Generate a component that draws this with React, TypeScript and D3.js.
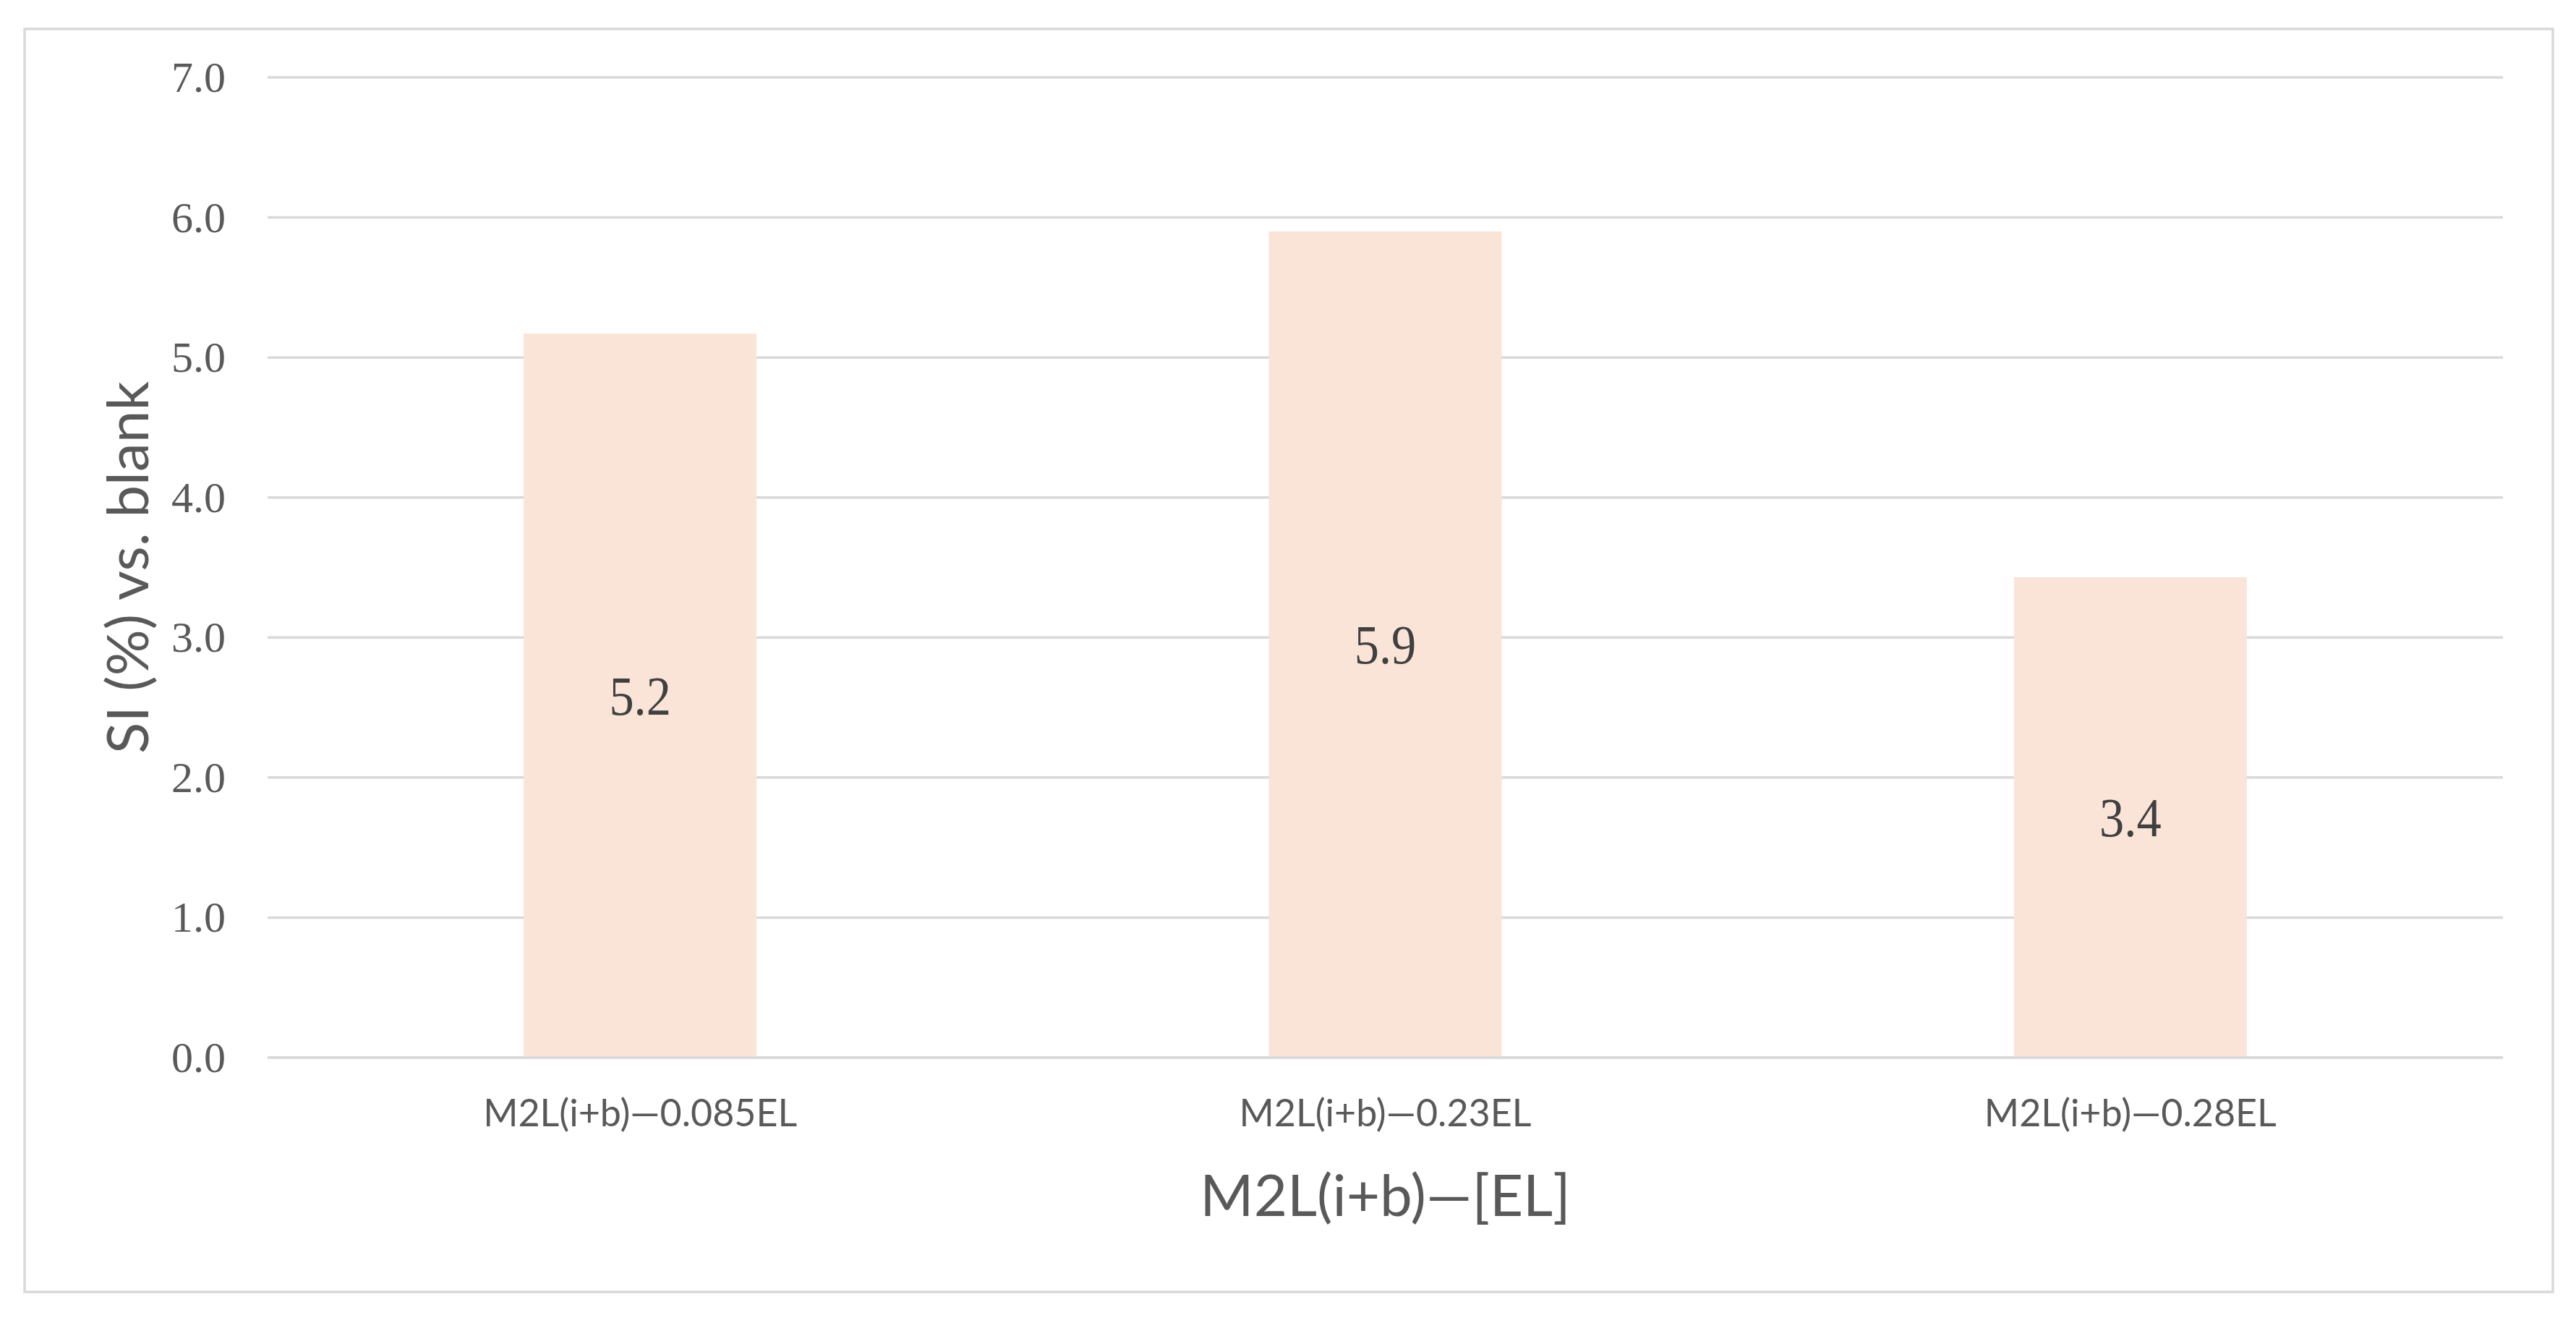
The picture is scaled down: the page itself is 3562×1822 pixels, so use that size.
import React from "react";
import * as d3 from "d3";

const categories = ["M2L(i+b)—0.085EL", "M2L(i+b)—0.23EL", "M2L(i+b)—0.28EL"];
const values = [5.17, 5.9, 3.43];
const valueLabels = ["5.2", "5.9", "3.4"];
const yTicks = [0, 1, 2, 3, 4, 5, 6, 7];
const xTitle = "M2L(i+b)—[EL]";
const yTitle = "SI (%) vs. blank";

const W = 3562;
const H = 1822;
const M = { left: 370, right: 3461, top: 107, bottom: 1462 };

export default function App() {
  const x = d3
    .scaleBand<string>()
    .domain(categories)
    .range([M.left, M.right])
    .paddingInner(0.6875)
    .paddingOuter(0.6875 / 2);
  const y = d3.scaleLinear().domain([0, 7]).range([M.bottom, M.top]);
  const sans = "Lato, 'Open Sans', sans-serif";
  const serif = "'Liberation Serif', 'Times New Roman', serif";

  return (
    <svg
      width={W}
      height={H}
      style={{ position: "absolute", left: 0, top: 0, display: "block", background: "#fff" }}
    >
      <rect x={34} y={40} width={3530 - 34} height={1786 - 40} fill="#fff" stroke="#d9d9d9" strokeWidth={3.5} />
      {yTicks.map((t) => (
        <g key={t}>
          <line x1={M.left} x2={M.right} y1={y(t)} y2={y(t)} stroke="#d9d9d9" strokeWidth={3.5} />
          <text
            x={312}
            y={y(t) + 20}
            textAnchor="end"
            fontFamily={serif}
            fontSize={60}
            fill="#595959"
          >
            {d3.format(".1f")(t)}
          </text>
        </g>
      ))}
      {categories.map((c, i) => {
        const bx = x(c)!;
        const by = y(values[i]);
        const cx = bx + x.bandwidth() / 2;
        const cy = (by + y(0)) / 2 + 26;
        return (
          <g key={c}>
            <rect x={bx} y={by} width={x.bandwidth()} height={y(0) - by} fill="#FAE4D7" />
            <text
              transform={`translate(${cx}, ${cy}) scale(0.9, 1)`}
              textAnchor="middle"
              fontFamily={serif}
              fontSize={76}
              fill="#404040"
            >
              {valueLabels[i]}
            </text>
            <text
              x={cx}
              y={1557}
              textAnchor="middle"
              fontFamily={sans}
              fontSize={52}
              fill="#595959"
            >
              {c}
            </text>
          </g>
        );
      })}
      <line x1={M.left} x2={M.right} y1={y(0)} y2={y(0)} stroke="#d9d9d9" strokeWidth={3.5} />
      <text x={(M.left + M.right) / 2} y={1681} textAnchor="middle" fontFamily={sans} fontSize={80} fill="#595959">
        {xTitle}
      </text>
      <text
        transform={`translate(205, ${(M.top + M.bottom) / 2}) rotate(-90)`}
        textAnchor="middle"
        fontFamily={sans}
        fontSize={80}
        fill="#595959"
      >
        {yTitle}
      </text>
    </svg>
  );
}
